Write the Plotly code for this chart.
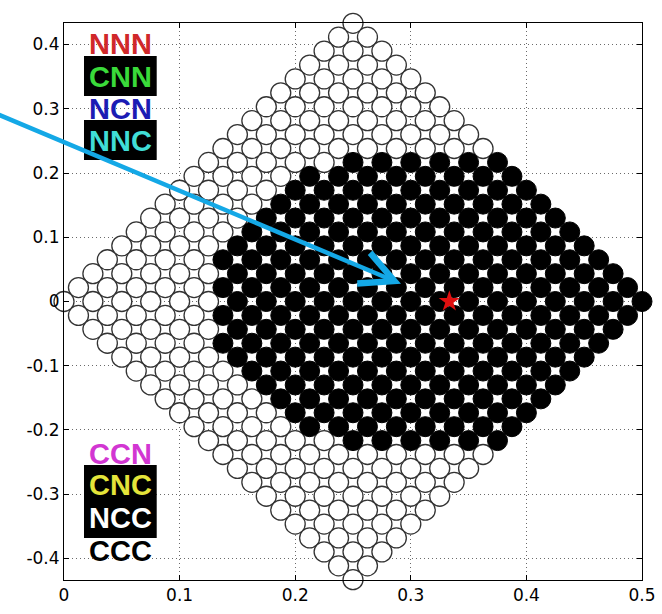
import numpy as np
import plotly.graph_objects as go

# ---- data ----
# 21 x 21 lattice drawn as a rhombus; rows are indexed from +20 (top) to -20 (bottom)
row_index = list(range(20, -21, -1))
# number of filled (black) circles in each row, counted from the right-hand edge
black_counts = [0] * 10 + [6, 8, 9, 10, 11, 12, 13, 14, 14, 15, 15,
                           15, 14, 14, 13, 12, 11, 10, 9, 8, 6] + [0] * 10
lattice_size = 21
x_step = 0.025
y_step = 0.025 * np.sqrt(3) / 2
star_point = (1 / 3, 0.0)

x_ticks = [0, 0.1, 0.2, 0.3, 0.4, 0.5]
x_ticklabels = ["0", "0.1", "0.2", "0.3", "0.4", "0.5"]
y_ticks = [-0.4, -0.3, -0.2, -0.1, 0, 0.1, 0.2, 0.3, 0.4]
y_ticklabels = ["-0.4", "-0.3", "-0.2", "-0.1", "0", "0.1", "0.2", "0.3", "0.4"]

labels_top = ["NNN", "CNN", "NCN", "NNC"]
colors_top = ["#d0282a", "#3ada3a", "#1c1cb4", "#40ddd6"]
labels_bottom = ["CCN", "CNC", "NCC", "CCC"]
colors_bottom = ["#d236d2", "#e4e43a", "#ffffff", "#000000"]

# ---- build lattice points ----
wx, wy, bx, by = [], [], [], []
for k, nb in zip(row_index, black_counts):
    n = lattice_size - abs(k)
    x0 = abs(k) * x_step / 2
    for m in range(n):
        xv = x0 + m * x_step
        yv = k * y_step
        if m >= n - nb:
            bx.append(xv); by.append(yv)
        else:
            wx.append(xv); wy.append(yv)

fig = go.Figure()
fig.add_trace(go.Scatter(x=wx, y=wy, mode="markers", cliponaxis=False,
                         marker=dict(symbol="circle", size=20, color="white",
                                     line=dict(color="#333333", width=1.3)),
                         hoverinfo="skip"))
fig.add_trace(go.Scatter(x=bx, y=by, mode="markers", cliponaxis=False,
                         marker=dict(symbol="circle", size=20, color="black",
                                     line=dict(color="black", width=1)),
                         hoverinfo="skip"))
fig.add_trace(go.Scatter(x=[star_point[0]], y=[star_point[1]], mode="markers",
                         cliponaxis=False,
                         marker=dict(symbol="star", size=16, color="#e01010",
                                     line=dict(width=0)),
                         hoverinfo="skip"))

# arrow
fig.add_annotation(x=0.2915, y=0.0275, xref="x", yref="y",
                   ax=-0.058, ay=0.292, axref="x", ayref="y",
                   showarrow=True, arrowhead=5, arrowsize=1.45, arrowwidth=4.5,
                   arrowcolor="#14a8e6", standoff=0, text="")

# label boxes (black backgrounds)
box_style = dict(type="rect", xref="paper", yref="paper", fillcolor="black",
                 line=dict(width=0), layer="above")
fig.add_shape(x0=0.0346, x1=0.1604, y0=0.869, y1=0.9408, **box_style)
fig.add_shape(x0=0.0346, x1=0.1604, y0=0.754, y1=0.8259, **box_style)
fig.add_shape(x0=0.0346, x1=0.1604, y0=0.0754, y1=0.2065, **box_style)

font_family = "Liberation Sans, Arial, Helvetica, sans-serif"
top_y = [0.9623, 0.9036, 0.8456, 0.7881]
bot_y = [0.2262, 0.1706, 0.1122, 0.0521]
for lab, col, yy in zip(labels_top, colors_top, top_y):
    fig.add_annotation(x=0.0969, y=yy, xref="paper", yref="paper", text=lab,
                       showarrow=False, xanchor="center", yanchor="middle",
                       font=dict(family=font_family, size=29, color=col, weight="bold"))
for lab, col, yy in zip(labels_bottom, colors_bottom, bot_y):
    fig.add_annotation(x=0.0969, y=yy, xref="paper", yref="paper", text=lab,
                       showarrow=False, xanchor="center", yanchor="middle",
                       font=dict(family=font_family, size=29, color=col, weight="bold"))

axis_common = dict(showgrid=True, gridcolor="#6a6a6a", gridwidth=1, griddash="1px,3px",
                   zeroline=False, showline=True, linecolor="black", linewidth=1,
                   mirror="ticks", ticks="inside", ticklen=5, tickcolor="black",
                   automargin=False,
                   tickfont=dict(family="DejaVu Sans, Liberation Sans, Arial, sans-serif",
                                 size=17, color="black"))

fig.update_layout(
    width=662, height=614,
    margin=dict(l=64, r=20, t=23, b=34),
    paper_bgcolor="white", plot_bgcolor="white",
    showlegend=False,
    xaxis=dict(range=[0, 0.5], tickvals=x_ticks, ticktext=x_ticklabels, **axis_common),
    yaxis=dict(range=[-0.4335, 0.4335], tickvals=y_ticks, ticktext=y_ticklabels, **axis_common),
)

fig.write_html("out.html", config={"displayModeBar": False},
               post_script="document.body.style.margin='0';document.body.style.overflow='hidden';")
